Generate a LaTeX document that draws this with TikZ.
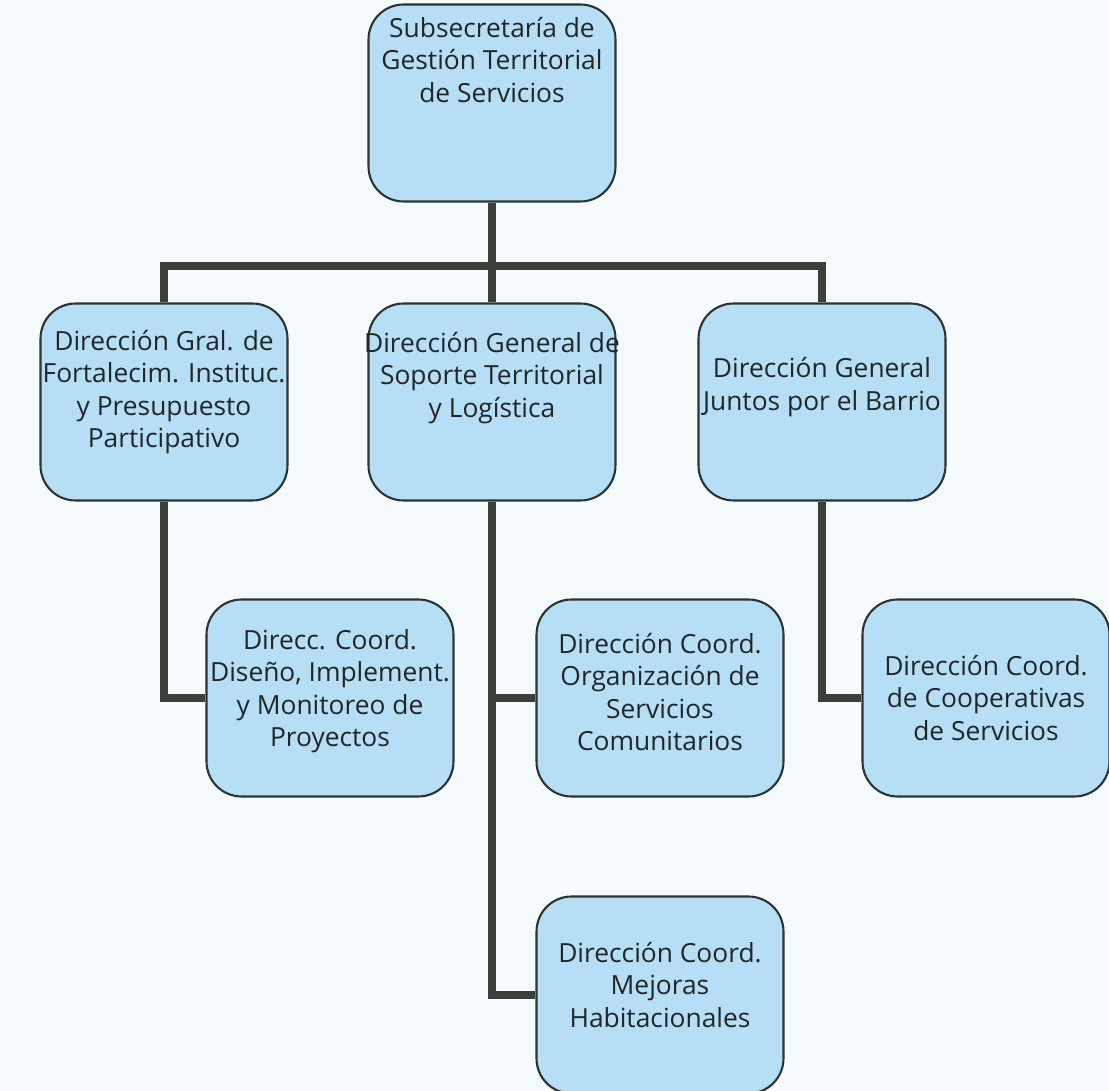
\documentclass[tikz,border=0pt]{standalone}
\usepackage{fontspec}
\setmainfont{Open Sans}
\definecolor{paper}{RGB}{245,250,252}
\definecolor{boxblue}{RGB}{182,223,245}
\definecolor{boxedge}{RGB}{45,50,50}
\definecolor{linkgray}{RGB}{60,64,58}
\definecolor{inkgray}{RGB}{32,38,40}

\begin{document}
\begin{tikzpicture}[x = 0.02cm, y = -0.02cm,
                    unit/.style = {draw = boxedge, fill = boxblue, line width = 1.2pt,
                                   rounded corners = 0.7cm, minimum width = 4.94cm, minimum height = 3.94cm},
                    txt/.style = {align = center, inner sep = 0pt, text = inkgray,
                                  font = \fontsize{15}{18.5}\selectfont},
                    link/.style = {draw = linkgray, line width = 4.3pt, line join = miter}]
  \useasboundingbox (0, 0) rectangle (1109, 1091);
  \fill [paper] (0, 0) rectangle (1109, 1091);

  \node [unit] (sub) at (492, 103) {};
  \node [unit] (dgA) at (164, 402) {};
  \node [unit] (dgB) at (492, 402) {};
  \node [unit] (dgC) at (822, 402) {};
  \node [unit] (dcA) at (330, 698) {};
  \node [unit] (dcB1) at (660, 698) {};
  \node [unit] (dcB2) at (660, 995) {};
  \node [unit] (dcC) at (986, 698) {};

  \coordinate (bus) at (492, 266);
  \draw [link] (sub) -- (dgB);
  \draw [link] (dgA.north) |- (bus) -| (dgC.north);
  \draw [link] (dgA.south) |- (dcA.west);
  \draw [link] (dgB.south) |- (dcB2.west);
  \draw [link] (dgB.south |- dcB1.west) -- (dcB1.west);
  \draw [link] (dgC.south) |- (dcC.west);

  \node [txt] (subT) at ([yshift = 0.86cm] sub.center) {Subsecretaría de\\Gestión Territorial\\de Servicios};
  \node [txt] (dgAT) at ([yshift = 0.2cm] dgA.center) {Dirección Gral. de\\Fortalecim. Instituc.\\y Presupuesto\\Participativo};
  \node [txt] (dgBT) at ([yshift = 0.48cm] dgB.center) {Dirección General de\\Soporte Territorial\\y Logística};
  \node [txt] (dgCT) at ([yshift = 0.3cm] dgC.center) {Dirección General\\Juntos por el Barrio};
  \node [txt] (dcAT) at ([yshift = 0.14cm] dcA.center) {Direcc. Coord.\\Diseño, Implement.\\y Monitoreo de\\Proyectos};
  \node [txt] (dcB1T) at ([yshift = 0.12cm] dcB1.center) {Dirección Coord.\\Organización de\\Servicios\\Comunitarios};
  \node [txt] (dcB2T) at ([yshift = 0.2cm] dcB2.center) {Dirección Coord.\\Mejoras\\Habitacionales};
  \node [txt] (dcCT) at (dcC.center) {Dirección Coord.\\de Cooperativas\\de Servicios};
\end{tikzpicture}
\end{document}
